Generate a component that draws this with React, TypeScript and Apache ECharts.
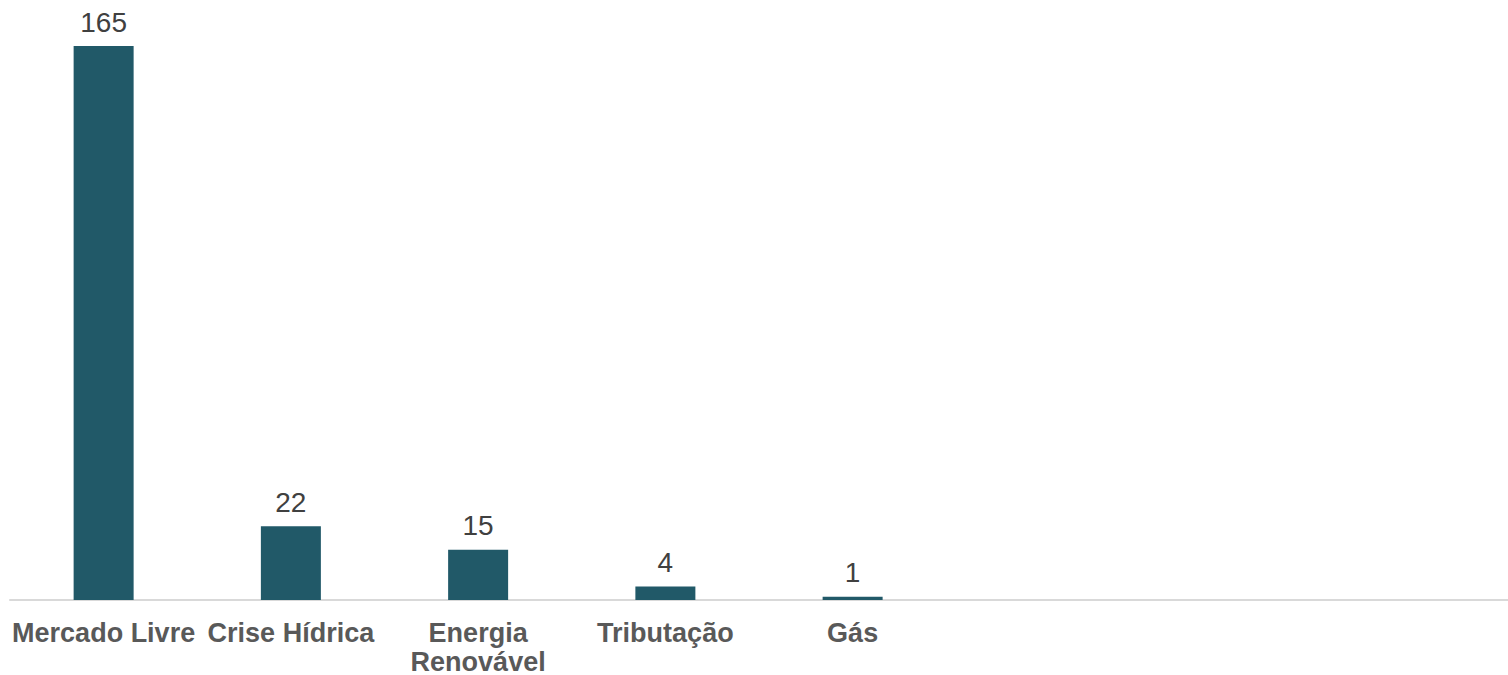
import React, { useEffect, useRef } from "react";
import * as echarts from "echarts";

const categories = ["Mercado Livre", "Crise Hídrica", "Energia\nRenovável", "Tributação", "Gás", "", "", ""];
const values: (number | null)[] = [165, 22, 15, 4, 1, null, null, null];

export default function App() {
  const ref = useRef<HTMLDivElement>(null);
  useEffect(() => {
    document.body.style.margin = "0";
    const chart = echarts.init(ref.current!, null, { renderer: "svg" });
    const font = "'Liberation Sans', Arial, sans-serif";
    chart.setOption({
      animation: false,
      grid: { left: 10, right: 0, top: 46, bottom: 75, containLabel: false, outerBoundsMode: "none" },
      xAxis: {
        type: "category",
        data: categories,
        axisLine: { lineStyle: { color: "#d9d9d9", width: 2 } },
        axisTick: { show: false },
        axisLabel: {
          interval: 0,
          color: "#595959",
          fontFamily: font,
          fontWeight: "bold",
          fontSize: 27,
          lineHeight: 29,
          margin: 18,
          hideOverlap: false,
        },
      },
      yAxis: {
        type: "value",
        min: 0,
        max: 165,
        show: false,
        splitLine: { show: false },
      },
      series: [
        {
          type: "bar",
          data: values,
          barWidth: 60,
          itemStyle: { color: "#215968" },
          label: {
            show: true,
            position: "top",
            distance: 10,
            color: "#404040",
            fontFamily: font,
            fontSize: 28,
          },
        },
      ],
    });
    return () => chart.dispose();
  }, []);
  return <div ref={ref} style={{ width: 1508, height: 675 }} />;
}
